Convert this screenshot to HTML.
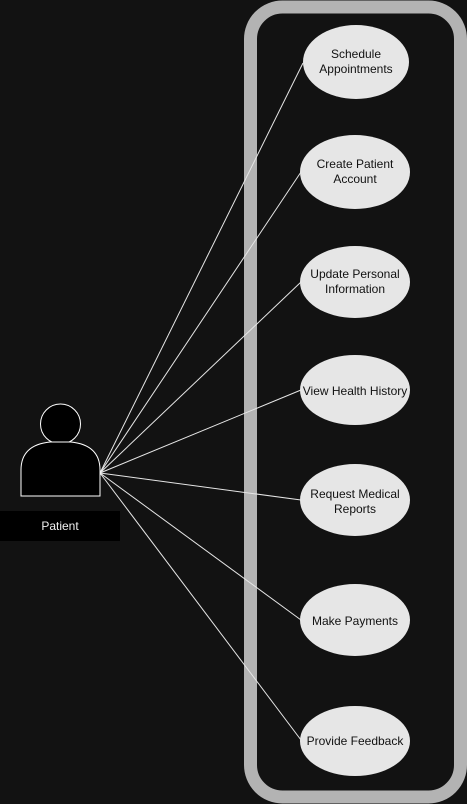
<!DOCTYPE html>
<html><head><style>
html,body{margin:0;padding:0;background:#121212;}
svg{display:block;}
text{font-family:"Liberation Sans",Arial,sans-serif;font-size:12px;}
</style></head><body>
<svg width="467" height="804" viewBox="0 0 467 804">
<rect x="0" y="0" width="467" height="804" fill="#121212"/>
<rect x="250.5" y="7" width="210" height="790" rx="32" fill="#121212" stroke="#b3b3b3" stroke-width="13"/>
<g stroke="#e6e6e6" stroke-width="1">
<line x1="100" y1="473" x2="303" y2="63"/>
<line x1="100" y1="473" x2="301" y2="172"/>
<line x1="100" y1="473" x2="301" y2="282"/>
<line x1="100" y1="473" x2="301" y2="390"/>
<line x1="100" y1="473" x2="301" y2="500"/>
<line x1="100" y1="473" x2="301" y2="620"/>
<line x1="100" y1="473" x2="301" y2="740"/>
</g>
<g fill="#e6e6e6">
<ellipse cx="356" cy="62" rx="53" ry="37"/>
<ellipse cx="355" cy="172" rx="55" ry="37"/>
<ellipse cx="355" cy="282" rx="55" ry="36"/>
<ellipse cx="355" cy="390" rx="55" ry="35"/>
<ellipse cx="355" cy="500" rx="55" ry="36"/>
<ellipse cx="355" cy="620" rx="55" ry="36"/>
<ellipse cx="355" cy="741" rx="55" ry="35"/>
</g>
<g fill="#111" text-anchor="middle">
<text x="356" y="58">Schedule</text><text x="356" y="73">Appointments</text>
<text x="355" y="168">Create Patient</text><text x="355" y="183">Account</text>
<text x="355" y="278">Update Personal</text><text x="355" y="293">Information</text>
<text x="355" y="395">View Health History</text>
<text x="355" y="498">Request Medical</text><text x="355" y="513">Reports</text>
<text x="355" y="625">Make Payments</text>
<text x="355" y="745">Provide Feedback</text>
</g>
<circle cx="60.5" cy="424" r="20" fill="#000" stroke="#fff" stroke-width="1"/>
<path d="M21 496 L21 470 Q21 445 50 442 L71 442 Q100 445 100 470 L100 496 Z" fill="#000" stroke="#fff" stroke-width="1"/>
<rect x="0" y="511" width="120" height="30" fill="#000"/>
<text x="60" y="530" fill="#f0f0f0" text-anchor="middle">Patient</text>
</svg>
</body></html>
